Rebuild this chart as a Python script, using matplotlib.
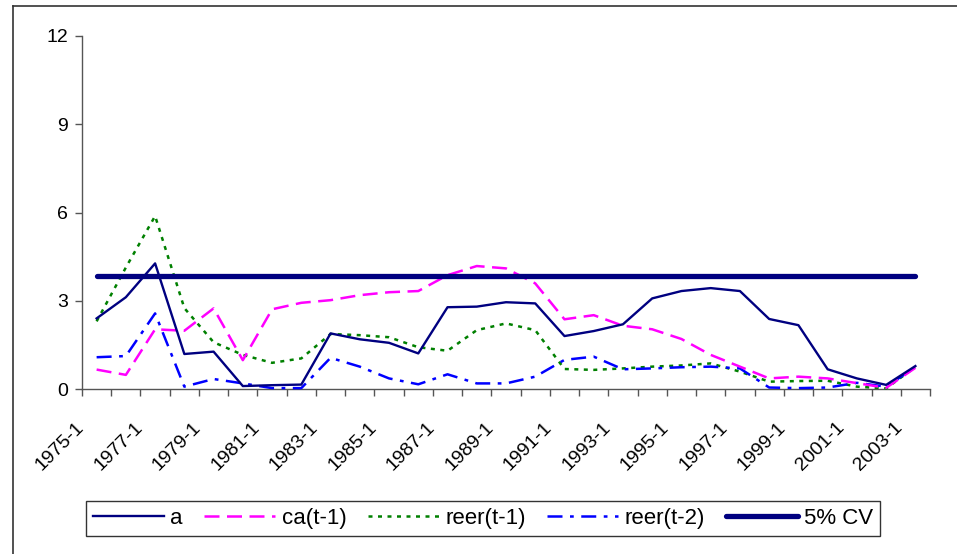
import matplotlib
matplotlib.use("Agg")
import matplotlib.pyplot as plt
from matplotlib.lines import Line2D

plt.rcParams['font.family'] = ['Liberation Sans', 'DejaVu Sans']

# Yearly observations, 1975-2003
years = list(range(1975, 2004))
tick_labels = [f"{y}-1" for y in years]

a = [2.40, 3.12, 4.27, 1.19, 1.27, 0.10, 0.13, 0.15, 1.89, 1.69,
     1.57, 1.21, 2.78, 2.80, 2.95, 2.91, 1.80, 1.97, 2.20, 3.08,
     3.33, 3.43, 3.33, 2.38, 2.17, 0.67, 0.36, 0.14, 0.78]
ca_t1 = [0.66, 0.48, 2.03, 1.98, 2.74, 0.98, 2.71, 2.93, 3.02, 3.19,
         3.29, 3.33, 3.87, 4.18, 4.10, 3.59, 2.37, 2.51, 2.15, 2.03,
         1.70, 1.16, 0.76, 0.36, 0.42, 0.36, 0.20, 0.04, 0.72]
reer_t1 = [2.30, 4.13, 5.88, 2.75, 1.59, 1.16, 0.89, 1.04, 1.87, 1.83,
           1.76, 1.42, 1.30, 2.00, 2.23, 2.00, 0.68, 0.65, 0.70, 0.76,
           0.80, 0.87, 0.59, 0.25, 0.27, 0.28, 0.08, 0.02, 0.75]
reer_t2 = [1.08, 1.12, 2.57, 0.08, 0.34, 0.19, 0.03, 0.03, 1.06, 0.76,
           0.36, 0.16, 0.50, 0.19, 0.19, 0.42, 0.99, 1.10, 0.67, 0.70,
           0.74, 0.76, 0.70, 0.05, 0.03, 0.05, 0.21, 0.08, 0.75]
cv_5pct = 3.84
y_ticks = [0, 3, 6, 9, 12]

W, H = 957, 554
fig = plt.figure(figsize=(W / 100, H / 100), dpi=100)
ax = fig.add_axes([82 / W, 1 - 389 / H, (930 - 82) / W, (389 - 36) / H])

n = len(years)
x = [i + 0.5 for i in range(n)]

ax.plot(x, a, color='#000080', lw=1.7, label='a', clip_on=False, zorder=5)
ax.plot(x, ca_t1, color='#FF00FF', lw=1.8, dashes=(6, 3), label='ca(t-1)', clip_on=False, zorder=4)
ax.plot(x, reer_t1, color='#008000', lw=1.8, dashes=(1.6, 2.2), label='reer(t-1)', clip_on=False, zorder=3)
ax.plot(x, reer_t2, color='#0000FF', lw=1.8, dashes=(6, 3, 1.5, 3), label='reer(t-2)', clip_on=False, zorder=3)
ax.plot(x, [cv_5pct] * n, color='#000080', lw=3.8, solid_capstyle='round', label='5% CV', zorder=6)

ax.set_xlim(0, n)
ax.set_ylim(0, 12)
ax.set_yticks(y_ticks)
ax.set_yticklabels([str(v) for v in y_ticks])

# tick marks at category boundaries, labels at every other category centre
ax.set_xticks(range(n + 1))
ax.set_xticklabels([])
for i in range(0, n, 2):
    ax.text(x[i] - 0.52, -1.22, tick_labels[i], rotation=45, rotation_mode='anchor',
            ha='right', va='center', fontsize=14, color='black')

for side in ('top', 'right'):
    ax.spines[side].set_visible(False)
for side in ('left', 'bottom'):
    ax.spines[side].set_color('#555555')
    ax.spines[side].set_linewidth(1.0)
ax.tick_params(axis='both', direction='out', length=5, width=1, color='#555555',
               labelsize=14, labelcolor='black')
ax.tick_params(axis='y', pad=5)

leg = fig.legend(loc='center', bbox_to_anchor=(483 / W, 1 - 518.5 / H), ncol=5,
                 fontsize=16, frameon=True, fancybox=False, edgecolor='black',
                 handlelength=3.2, handletextpad=0.3, columnspacing=0.95,
                 borderpad=0.3, borderaxespad=0)
leg.get_frame().set_linewidth(1.0)

# outer chart frame (left and top edges)
fig.add_artist(Line2D([13 / W, 13 / W], [0, 1 - 6 / H], color='#333333', lw=1.2, transform=fig.transFigure))
fig.add_artist(Line2D([13 / W, 1], [1 - 6 / H, 1 - 6 / H], color='#333333', lw=1.2, transform=fig.transFigure))

fig.savefig('out.png', dpi=100, facecolor='white')
